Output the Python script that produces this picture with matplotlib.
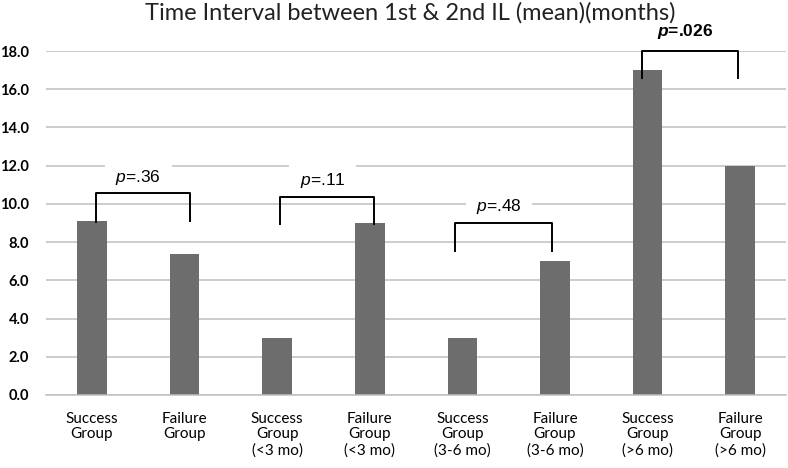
import matplotlib
matplotlib.use('Agg')
import matplotlib.pyplot as plt

plt.rcParams['font.family'] = ['Lato', 'DejaVu Sans']
plt.rcParams['mathtext.fontset'] = 'custom'
plt.rcParams['mathtext.it'] = 'Liberation Sans:italic'
plt.rcParams['mathtext.bf'] = 'Liberation Sans:italic:bold'

categories = ['Success\nGroup', 'Failure\nGroup',
              'Success\nGroup\n(<3 mo)', 'Failure\nGroup\n(<3 mo)',
              'Success\nGroup\n(3-6 mo)', 'Failure\nGroup\n(3-6 mo)',
              'Success\nGroup\n(>6 mo)', 'Failure\nGroup\n(>6 mo)']
means = [9.1, 7.4, 3.0, 9.0, 3.0, 7.0, 17.0, 12.0]
yticks = [0, 2, 4, 6, 8, 10, 12, 14, 16, 18]

# comparisons: (left x, right x, bracket top, left leg end, right leg end, label y)
p_labels = ['.36', '.11', '.48', '.026']
brackets = [
    (0.04, 1.06, 10.58, 9.06, 9.1, 11.36),
    (2.03, 3.05, 10.37, 8.95, 8.95, 11.2),
    (3.92, 4.97, 9.0, 7.54, 7.54, 9.84),
    (5.94, 6.98, 18.0, 16.6, 16.6, 19.0),
]

fig = plt.figure(figsize=(7.88, 4.68), dpi=100)
ax = fig.add_axes([0.058, 0.156, 0.94, 0.735])

x = range(len(means))
ax.bar(x, means, width=0.32, color='#6d6d6d', zorder=2)

ax.set_xlim(-0.5, 7.5)
ax.set_ylim(0, 18)
ax.set_yticks(yticks)
ax.set_yticklabels([f'{v:.1f}' for v in yticks], fontsize=10.5, fontweight='bold')
ax.set_xticks(list(x))
ax.set_xticklabels(categories, fontsize=11, linespacing=1.15)
ax.tick_params(length=0)
ax.tick_params(axis='x', pad=12)
ax.tick_params(axis='y', pad=12)
ax.grid(axis='y', color='#bfbfbf', linewidth=1.1, zorder=0)
for s in ['top', 'right', 'left']:
    ax.spines[s].set_visible(False)
ax.spines['bottom'].set_color('#bfbfbf')
ax.spines['bottom'].set_linewidth(1.1)

for (x0, x1, top, l0, l1, ty), lab in zip(brackets, p_labels):
    ax.plot([x0, x0, x1, x1], [l0, top, top, l1], color='black', lw=1.4,
            zorder=4, clip_on=False, solid_joinstyle='round')
    if lab == '.026':
        txt = r'$\mathbf{p}$=' + lab
        w = 'bold'
        box = None
    else:
        txt = r'$\mathit{p}$=' + lab
        w = 'normal'
        box = dict(boxstyle='square,pad=0.6', facecolor='white', edgecolor='none')
    ax.text((x0 + x1) / 2 - 0.05, ty, txt, ha='center', va='center',
            fontsize=12.5, fontweight=w, family='Liberation Sans', zorder=3,
            bbox=box, clip_on=False)

fig.text(0.52, 0.972, 'Time Interval between 1st & 2nd IL (mean)(months)',
         ha='center', va='center', fontsize=17, color='#222222')

fig.savefig('out.png', dpi=100)
